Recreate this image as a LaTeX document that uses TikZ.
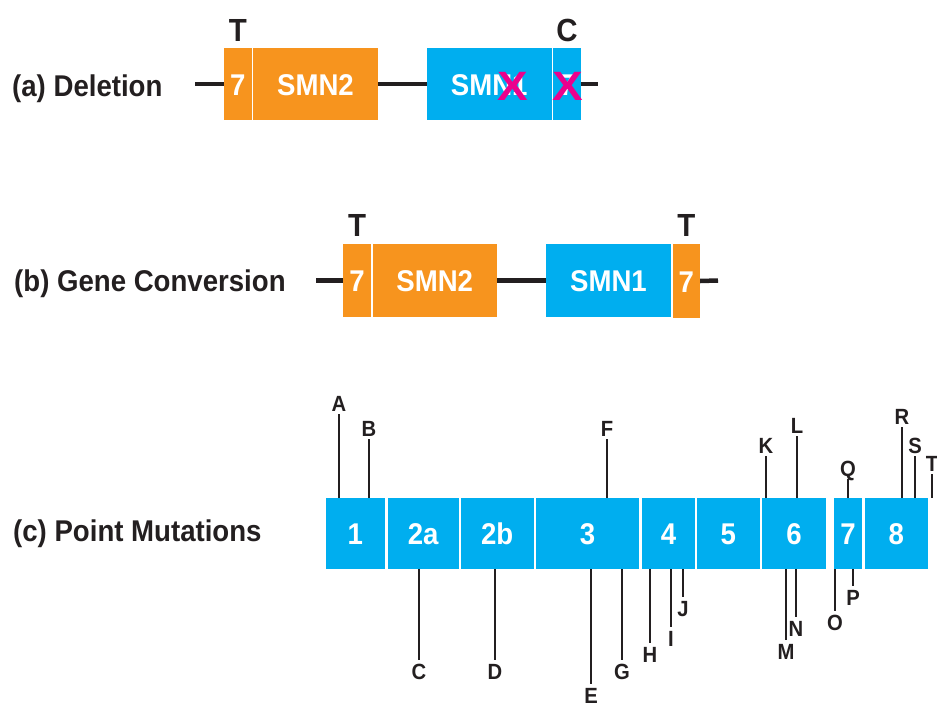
\documentclass[tikz,border=0pt]{standalone}
\usepackage{fontspec}
\setmainfont{Liberation Sans}
\newfontfamily\condsf{Liberation Sans}[FakeStretch=0.92]
\newfontfamily\widesf{Liberation Sans}[FakeStretch=1.12]
\usetikzlibrary{positioning}
\definecolor{smnorange}{RGB}{247,148,30}
\definecolor{smnblue}{RGB}{0,174,239}
\definecolor{smnmagenta}{RGB}{236,0,140}
\definecolor{inkblack}{RGB}{35,31,32}
\tikzset{
  exon/.style={inner sep=0pt, text=white, font=\condsf\bfseries\fontsize{30}{30}\selectfont,
    text height=22pt, text depth=0pt, minimum height=72pt},
  dnaline/.style={line width=4.5pt, draw=inkblack},
  partlabel/.style={anchor=base west, inner sep=0pt, text=inkblack,
    font=\condsf\bfseries\fontsize{30}{30}\selectfont},
  basechg/.style={inner sep=0pt, text=inkblack, text height=23pt, text depth=0pt,
    font=\condsf\bfseries\fontsize{32}{32}\selectfont},
  delx/.style={inner sep=0pt, text=smnmagenta, text height=30pt, text depth=0pt,
    font=\widesf\bfseries\fontsize{41}{41}\selectfont},
  mutlab/.style={inner sep=3pt, text=inkblack, text height=16pt, text depth=0pt,
    font=\condsf\bfseries\fontsize{22}{22}\selectfont},
  mutline/.style={line width=2pt, draw=inkblack}
}
\begin{document}
\begin{tikzpicture}[x=1pt,y=-1pt]
    \useasboundingbox (0,0) rectangle (937,704);
    %% (a) deletion
    \node[partlabel] (labA) at (12,96) {(a) Deletion};
    \coordinate (aL) at (195,84);
    \coordinate (aR) at (598,84);
    \node[exon,fill=smnorange,minimum width=27.5pt] (a7) at (237.75,84) {7};
    \node[exon,fill=smnorange,minimum width=125pt] (aSMN2) at (315.5,84) {SMN2};
    \node[exon,fill=smnblue,minimum width=124.5pt] (aSMN1) at (489.25,84) {SMN1};
    \node[exon,fill=smnblue,minimum width=28pt] (aC7) at (567,84) {7};
    \draw[dnaline] (aL) -- (a7.west);
    \draw[dnaline] (aSMN2.east) -- (aSMN1.west);
    \draw[dnaline] (aC7.east) -- (aR);
    \node[basechg,above=6pt of a7] (aT) {T};
    \node[basechg,above=6pt of aC7] (aC) {C};
    \node[delx] (aX1) at (512.5,85) {X};
    \node[delx] (aX2) at (568,85) {X};
    %% (b) gene conversion
    \node[partlabel] (labB) at (14,291) {(b) Gene Conversion};
    \coordinate (bL) at (316,280.5);
    \coordinate (bR) at (718,280.5);
    \node[exon,fill=smnorange,minimum width=28pt,minimum height=73pt] (b7) at (357,280.5) {7};
    \node[exon,fill=smnorange,minimum width=124pt,minimum height=73pt] (bSMN2) at (434.7,280.5) {SMN2};
    \node[exon,fill=smnblue,minimum width=125pt,minimum height=73pt] (bSMN1) at (608.5,280.5) {SMN1};
    \node[exon,fill=smnorange,minimum width=27.3pt,minimum height=74pt] (bC7) at (686.3,281) {7};
    \draw[dnaline] (bL) -- (b7.west);
    \draw[dnaline] (bSMN2.east) -- (bSMN1.west);
    \draw[dnaline] (bC7.east) -- (bR);
    \node[basechg,above=7pt of b7] (bT1) {T};
    \node[basechg,above=7pt of bC7] (bT2) {T};
    %% (c) point mutations
    \node[partlabel] (labC) at (13,541) {(c) Point Mutations};
    \begin{scope}[every node/.append style={exon,fill=smnblue,minimum height=71pt}]
    \node[minimum width=59.3pt] (e1) at (355.35,533.5) {1};
    \node[minimum width=71pt] (e2a) at (423.2,533.5) {2a};
    \node[minimum width=73pt] (e2b) at (497.2,533.5) {2b};
    \node[minimum width=103pt] (e3) at (587.5,533.5) {3};
    \node[minimum width=53pt] (e4) at (668.5,533.5) {4};
    \node[minimum width=62.7pt] (e5) at (728.35,533.5) {5};
    \node[minimum width=64pt] (e6) at (794,533.5) {6};
    \node[minimum width=28pt] (e7) at (848,533.5) {7};
    \node[minimum width=63.3pt] (e8) at (896.35,533.5) {8};
    \end{scope}
    %% mutations above the exons
    \foreach \lab/\x/\y/\ex in {A/339/403/e1, B/369/428/e1, F/607/428/e3, K/766/445/e6,
        L/797/425/e6, Q/848/468/e7, R/902/416/e8, S/915/445/e8, T/932/463/e8} {
        \node[mutlab] (m\lab) at (\x,\y) {\lab};
        \draw[mutline] (m\lab.south) -- (m\lab.south |- \ex.north);
    }
    %% mutations below the exons
    \foreach \lab/\x/\y/\ex in {C/419/671/e2a, D/495/671/e2b, E/591/695/e3, G/622/671/e3,
        H/650/654/e4, I/671/638/e4, J/683/608/e4, M/786/651/e6, N/796/628/e6,
        O/835/622/e7, P/853/597/e7} {
        \node[mutlab] (m\lab) at (\x,\y) {\lab};
        \draw[mutline] (m\lab.north) -- (m\lab.north |- \ex.south);
    }
\end{tikzpicture}
\end{document}
